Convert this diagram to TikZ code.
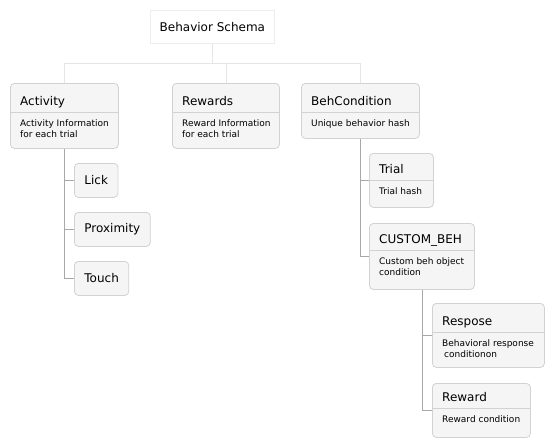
\documentclass[tikz,border=0pt]{standalone}
\usepackage{fontspec}
\setmainfont{DejaVu Sans}
\usepackage{tikz}
\usetikzlibrary{positioning}

\definecolor{boxfill}{HTML}{F5F5F5}
\definecolor{boxgray}{HTML}{D2D2D2}
\definecolor{linegray}{HTML}{A8A8A8}
\definecolor{rootgray}{HTML}{E6E6E6}

\newcommand{\titlefont}{\fontsize{12}{14}\selectfont}
\newcommand{\descfont}{\fontsize{9}{11}\selectfont}

\tikzset{
  wbs/.style={draw=boxgray, fill=boxfill, rounded corners=4pt, line width=0.8pt, inner sep=0pt, anchor=north west},
  wbsleaf/.style={wbs, inner xsep=10pt, minimum height=34pt, font=\titlefont},
  wbsrule/.style={draw=boxgray, line width=0.8pt},
  branch/.style={draw=linegray, line width=0.8pt},
  toplink/.style={draw=rootgray, line width=0.8pt}
}

% box with title and description: name, x, y, width, height, divider, title, text
\newcommand{\wbsbox}[8]{%
  \node[wbs, minimum width=#4pt, minimum height=#5pt] (#1) at (#2,#3) {};
  \draw[wbsrule] ([shift={(0,#6)}]#1.north west) -- ([shift={(0,#6)}]#1.north east);
  \node[anchor=base west, font=\titlefont, inner sep=0pt] (#1-title) at ([shift={(10,#6-6.5)}]#1.north west) {#7};
  \node[anchor=base west, font=\descfont, inner sep=0pt] (#1-text) at ([shift={(10,#6+14.5)}]#1.north west)
    {\begin{tabular}[t]{@{}l@{}}#8\end{tabular}};
}

\begin{document}
\begin{tikzpicture}[x=1pt, y=-1pt]
\useasboundingbox (0,0) rectangle (555,447);

\node[wbs, draw=rootgray!70, fill=white, rounded corners=0pt, minimum width=124pt, minimum height=33pt, font=\titlefont] (root) at (150,10) {Behavior Schema};

\wbsbox{act}{10}{83}{108}{65}{29}{Activity}{Activity Information\\for each trial}
\wbsbox{rew}{172}{83}{107}{65}{29}{Rewards}{Reward Information\\for each trial}
\wbsbox{beh}{301}{83}{118}{55}{29}{BehCondition}{Unique behavior hash}
\wbsbox{trial}{369}{153}{64}{54}{27}{Trial}{Trial hash}
\wbsbox{cust}{369}{223}{105}{66}{27}{CUSTOM\_BEH}{Custom beh object\\condition}
\wbsbox{resp}{432}{303}{112}{64}{29}{Respose}{Behavioral response\\\hspace{2pt}conditionon}
\wbsbox{rwd}{432}{383}{98}{54}{25}{Reward}{Reward condition}

\node[wbsleaf] (lick) at (74,163) {Lick};
\node[wbsleaf] (prox) at (74,212) {Proximity};
\node[wbsleaf] (touch) at (74,261) {Touch};

% links from the root
\draw[toplink] (root.south) -- ++(0,20) coordinate (hub);
\draw[toplink] (act.north) |- (hub) -| (beh.north);
\draw[toplink] (rew.north) -- (rew.north |- hub);

% children
\foreach \c in {lick,prox,touch}
  \draw[branch] (act.south) |- (\c.west);
\foreach \c in {trial,cust}
  \draw[branch] (beh.south) |- (\c.west);
\foreach \c in {resp,rwd}
  \draw[branch] (cust.south) |- (\c.west);
\end{tikzpicture}
\end{document}
